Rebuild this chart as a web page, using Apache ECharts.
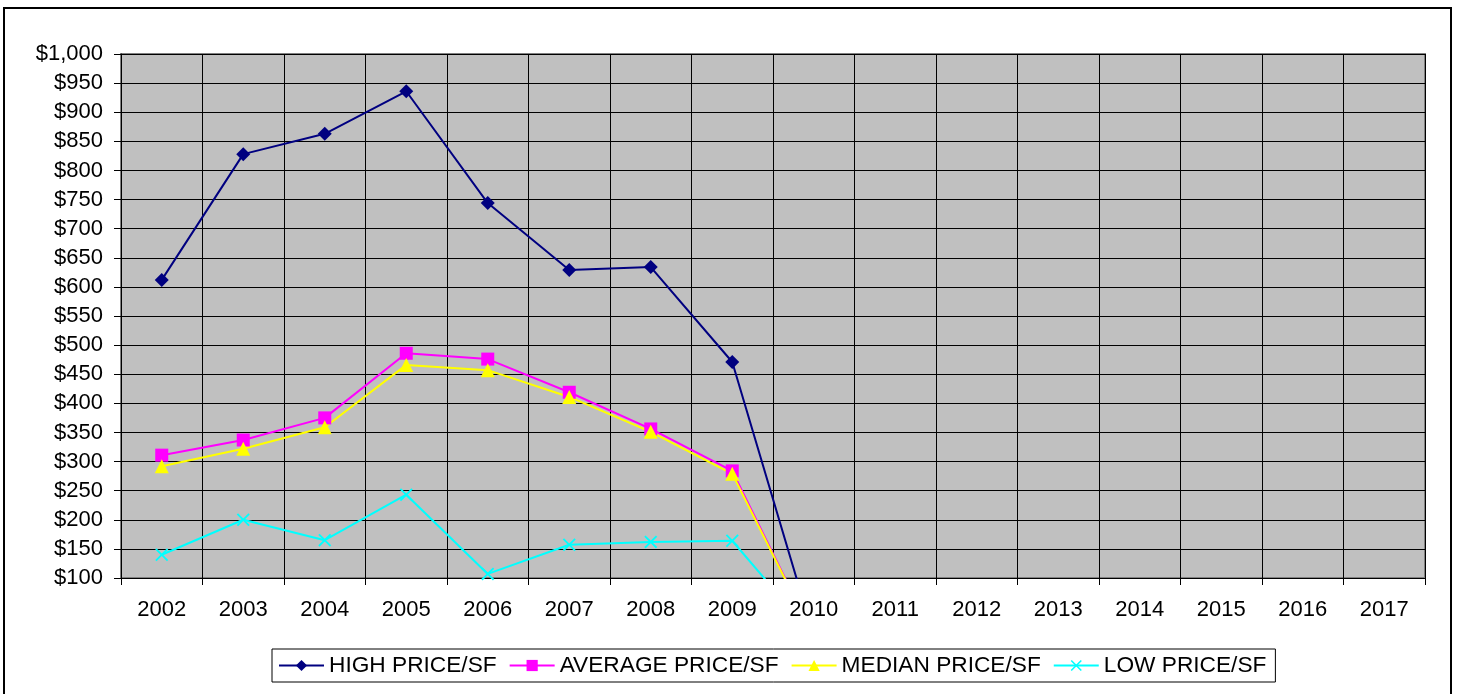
<!DOCTYPE html>
<html>
<head>
<meta charset="utf-8">
<script src="https://cdn.jsdelivr.net/npm/echarts@6/dist/echarts.min.js"></script>
<style>
html,body{margin:0;padding:0;background:#fff;}
#chart{width:1458px;height:694px;}
</style>
</head>
<body>
<div id="chart"></div>
<script>
var years = ['2002','2003','2004','2005','2006','2007','2008','2009','2010','2011','2012','2013','2014','2015','2016','2017'];
var highPrice    = [612, 828, 863, 936, 744, 629, 634, 471, 0, null, null, null, null, null, null, null];
var averagePrice = [311, 337, 375, 486, 476, 419, 356, 284, 0, null, null, null, null, null, null, null];
var medianPrice  = [292, 322, 359, 466, 457, 411, 351, 279, 0, null, null, null, null, null, null, null];
var lowPrice     = [140, 200, 165, 243, 107, 157, 162, 164, 0, null, null, null, null, null, null, null];
var seriesNames = ['HIGH PRICE/SF', 'AVERAGE PRICE/SF', 'MEDIAN PRICE/SF', 'LOW PRICE/SF'];

var xSymbol = 'path://M0,1L1,0L5,4L9,0L10,1L6,5L10,9L9,10L5,6L1,10L0,9L4,5Z';
var font = 'Liberation Sans';

var chart = echarts.init(document.getElementById('chart'));
function mk(name, data, color, symbol, size) {
  return {
    name: name, type: 'line', data: data,
    symbol: symbol, symbolSize: size, showSymbol: true,
    connectNulls: false, clip: true,
    lineStyle: {color: color, width: 2},
    itemStyle: {color: color},
    emphasis: {disabled: true},
    animation: false
  };
}
chart.setOption({
  animation: false,
  textStyle: {fontFamily: font},
  graphic: [{
    type: 'rect', silent: true,
    shape: {x: 4, y: 8, width: 1447, height: 700},
    style: {fill: 'none', stroke: '#000', lineWidth: 2}
  }],
  grid: {
    left: 121, top: 54, right: 33, bottom: 116,
    show: true, backgroundColor: '#C0C0C0', borderColor: '#808080', borderWidth: 2
  },
  legend: {
    data: seriesNames,
    left: 272, top: 649,
    padding: [5, 9, 5, 6],
    borderColor: '#000', borderWidth: 1,
    itemWidth: 45, itemHeight: 14, itemGap: 12,
    textStyle: {fontFamily: font, fontSize: 22.7, color: '#000'}
  },
  xAxis: {
    type: 'category', data: years, boundaryGap: true,
    axisLine: {show: true, lineStyle: {color: '#000', width: 1}},
    axisTick: {show: true, length: 7, lineStyle: {color: '#000'}},
    axisLabel: {fontFamily: font, fontSize: 22, color: '#000', margin: 21},
    splitLine: {show: true, lineStyle: {color: '#000', width: 1}}
  },
  yAxis: {
    type: 'value', min: 100, max: 1000, interval: 50,
    axisLine: {show: true, lineStyle: {color: '#000', width: 1}},
    axisTick: {show: true, length: 7, lineStyle: {color: '#000'}},
    axisLabel: {fontFamily: font, fontSize: 22, color: '#000', margin: 18,
      formatter: function (v) { return '$' + v.toLocaleString('en-US'); }},
    splitLine: {show: true, lineStyle: {color: '#000', width: 1}}
  },
  series: [
    mk(seriesNames[0], highPrice, '#000080', 'diamond', 14),
    mk(seriesNames[1], averagePrice, '#FF00FF', 'rect', 13),
    mk(seriesNames[2], medianPrice, '#FFFF00', 'triangle', 14),
    mk(seriesNames[3], lowPrice, '#00FFFF', xSymbol, 13)
  ]
});
</script>
</body>
</html>
